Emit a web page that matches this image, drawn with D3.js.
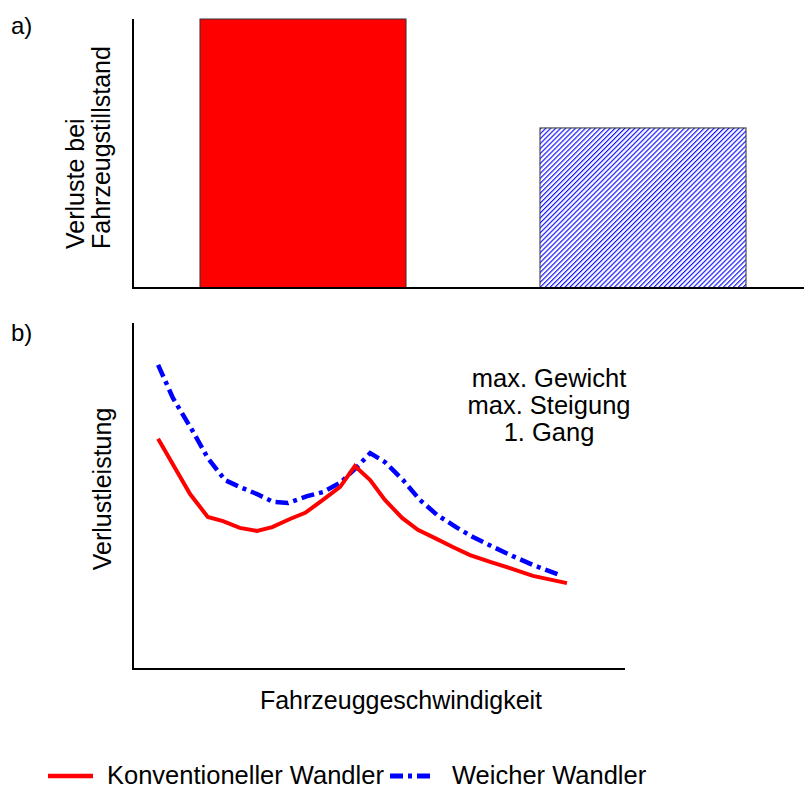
<!DOCTYPE html>
<html>
<head>
<meta charset="utf-8">
<script src="https://cdnjs.cloudflare.com/ajax/libs/d3/7.8.5/d3.min.js"></script>
<style>
  html, body { margin: 0; padding: 0; background: #fff; }
  svg { display: block; font-family: "Liberation Sans", Arial, sans-serif; }
</style>
</head>
<body>
<div id="chart"></div>
<script>
// ---- data (arbitrary units 0..100) ----
var barCategories = ['Konventioneller Wandler', 'Weicher Wandler'];
var barValues = [100, 59.5];

var speed = [5.1, 11.6, 15.2, 18.3, 21.7, 25.2, 28.3, 31.9, 35.0, 38.6, 42.1, 45.1,
             48.2, 51.2, 54.7, 57.9, 61.8, 65.0, 68.5, 72.6, 76.6, 81.3, 88.2];
var lossConventional = [67.2, 51.0, 44.3, 43.1, 41.1, 40.2, 41.3, 43.7, 45.5, 49.3, 53.1, 59.2,
                        55.1, 49.3, 44.0, 40.5, 37.8, 35.5, 33.1, 31.1, 29.3, 27.0, 24.9];

var speedSoft = [5.1, 8.1, 12.0, 15.2, 18.7, 21.7, 25.2, 28.5, 31.5, 35.4, 38.6, 42.1,
                 45.5, 48.2, 51.2, 54.9, 58.3, 61.8, 65.9, 69.1, 73.2, 77.2, 81.3, 87.2];
var lossSoft = [88.9, 79.2, 69.8, 61.6, 55.1, 53.1, 51.0, 48.7, 48.4, 50.4, 51.6, 54.3,
                58.9, 63.0, 60.4, 55.1, 49.3, 44.9, 41.1, 38.4, 35.5, 32.8, 30.2, 27.0];

var conditionLines = ['max. Gewicht', 'max. Steigung', '1. Gang'];

// ---- layout ----
var attrs = {
  width: 804,
  height: 790,
  fontSize: 24,
  labelFontSize: 25,
  noteFontSize: 25.5,
  red: '#ff0000',
  blue: '#0000ff',
  axisColor: '#000'
};

var svg = d3.select('#chart').append('svg')
  .attr('width', attrs.width)
  .attr('height', attrs.height);

var defs = svg.append('defs');
defs.append('pattern')
  .attr('id', 'hatch')
  .attr('patternUnits', 'userSpaceOnUse')
  .attr('width', 3.5)
  .attr('height', 3.5)
  .attr('patternTransform', 'rotate(45)')
  .append('line')
  .attr('x1', 0.6).attr('y1', 0)
  .attr('x2', 0.6).attr('y2', 3.5)
  .attr('stroke', '#0000ff')
  .attr('stroke-width', 1.1);

// ############ a) bar chart ############
var panelA = svg.append('g').attr('class', 'panel-a');

var xBand = d3.scaleBand()
  .domain(barCategories)
  .range([133, 813])
  .paddingInner(0.394)
  .paddingOuter(0.197);

var yBar = d3.scaleLinear().domain([0, 100]).range([288, 19]);

panelA.selectAll('rect.bar')
  .data(barCategories)
  .enter()
  .append('rect')
  .attr('class', 'bar')
  .attr('x', function(d) { return xBand(d); })
  .attr('y', function(d, i) { return yBar(barValues[i]); })
  .attr('width', xBand.bandwidth())
  .attr('height', function(d, i) { return yBar(0) - yBar(barValues[i]); })
  .attr('fill', function(d, i) { return i === 0 ? attrs.red : 'url(#hatch)'; })
  .attr('stroke', '#333')
  .attr('stroke-width', 1);

// axes as plain lines (no ticks in the original)
panelA.append('line')
  .attr('x1', 133).attr('x2', 133)
  .attr('y1', yBar(100)).attr('y2', yBar(0) + 1)
  .attr('stroke', attrs.axisColor).attr('stroke-width', 2);
panelA.append('line')
  .attr('x1', 132).attr('x2', attrs.width)
  .attr('y1', yBar(0)).attr('y2', yBar(0))
  .attr('stroke', attrs.axisColor).attr('stroke-width', 2);

var aLabel = panelA.append('text')
  .attr('transform', 'translate(110,249) rotate(-90)')
  .attr('font-size', attrs.labelFontSize)
  .attr('fill', '#000');
aLabel.append('tspan').attr('x', 0).attr('dy', '-1.05em').text('Verluste bei');
aLabel.append('tspan').attr('x', 0).attr('dy', '1.05em').text('Fahrzeugstillstand');

panelA.append('text')
  .attr('x', 11).attr('y', 34)
  .attr('font-size', attrs.fontSize)
  .text('a)');

// ############ b) loss curves ############
var panelB = svg.append('g').attr('class', 'panel-b');

var xSpeed = d3.scaleLinear().domain([0, 100]).range([133, 625]);
var yLoss = d3.scaleLinear().domain([0, 100]).range([668, 327]);

var line = d3.line()
  .x(function(d) { return xSpeed(d[0]); })
  .y(function(d) { return yLoss(d[1]); });

panelB.append('path')
  .datum(speedSoft.map(function(s, i) { return [s, lossSoft[i]]; }))
  .attr('d', line)
  .attr('fill', 'none')
  .attr('stroke', attrs.blue)
  .attr('stroke-width', 4.5)
  .attr('stroke-dasharray', '13,5,4,5');

panelB.append('path')
  .datum(speed.map(function(s, i) { return [s, lossConventional[i]]; }))
  .attr('d', line)
  .attr('fill', 'none')
  .attr('stroke', attrs.red)
  .attr('stroke-width', 4);

panelB.append('line')
  .attr('x1', 133).attr('x2', 133)
  .attr('y1', 323).attr('y2', 670)
  .attr('stroke', attrs.axisColor).attr('stroke-width', 2);
panelB.append('line')
  .attr('x1', 132).attr('x2', 625)
  .attr('y1', 669).attr('y2', 669)
  .attr('stroke', attrs.axisColor).attr('stroke-width', 2);

panelB.append('text')
  .attr('x', 11).attr('y', 341)
  .attr('font-size', attrs.fontSize)
  .text('b)');

panelB.append('text')
  .attr('transform', 'translate(111,489) rotate(-90)')
  .attr('text-anchor', 'middle')
  .attr('font-size', attrs.labelFontSize)
  .text('Verlustleistung');

panelB.append('text')
  .attr('x', 401).attr('y', 709)
  .attr('text-anchor', 'middle')
  .attr('font-size', attrs.labelFontSize)
  .text('Fahrzeuggeschwindigkeit');

panelB.selectAll('text.cond')
  .data(conditionLines)
  .enter()
  .append('text')
  .attr('class', 'cond')
  .attr('x', 549)
  .attr('y', function(d, i) { return 387 + i * 27; })
  .attr('text-anchor', 'middle')
  .attr('font-size', attrs.noteFontSize)
  .text(function(d) { return d; });

// ############ legend ############
var legend = svg.append('g').attr('class', 'legend');
var legendItems = [
  { label: barCategories[0], color: attrs.red, dash: null, width: 4.5, x: 48 },
  { label: barCategories[1], color: attrs.blue, dash: '13,5,4,5', width: 5, x: 390 }
];
var li = legend.selectAll('g.item')
  .data(legendItems)
  .enter()
  .append('g')
  .attr('class', 'item')
  .attr('transform', function(d) { return 'translate(' + d.x + ',776)'; });
li.append('line')
  .attr('x1', 0).attr('x2', 45)
  .attr('stroke', function(d) { return d.color; })
  .attr('stroke-width', function(d) { return d.width; })
  .attr('stroke-dasharray', function(d) { return d.dash; });
li.append('text')
  .attr('x', function(d, i) { return i === 0 ? 59 : 62; })
  .attr('y', 8)
  .attr('font-size', attrs.noteFontSize)
  .text(function(d) { return d.label; });
</script>
</body>
</html>
